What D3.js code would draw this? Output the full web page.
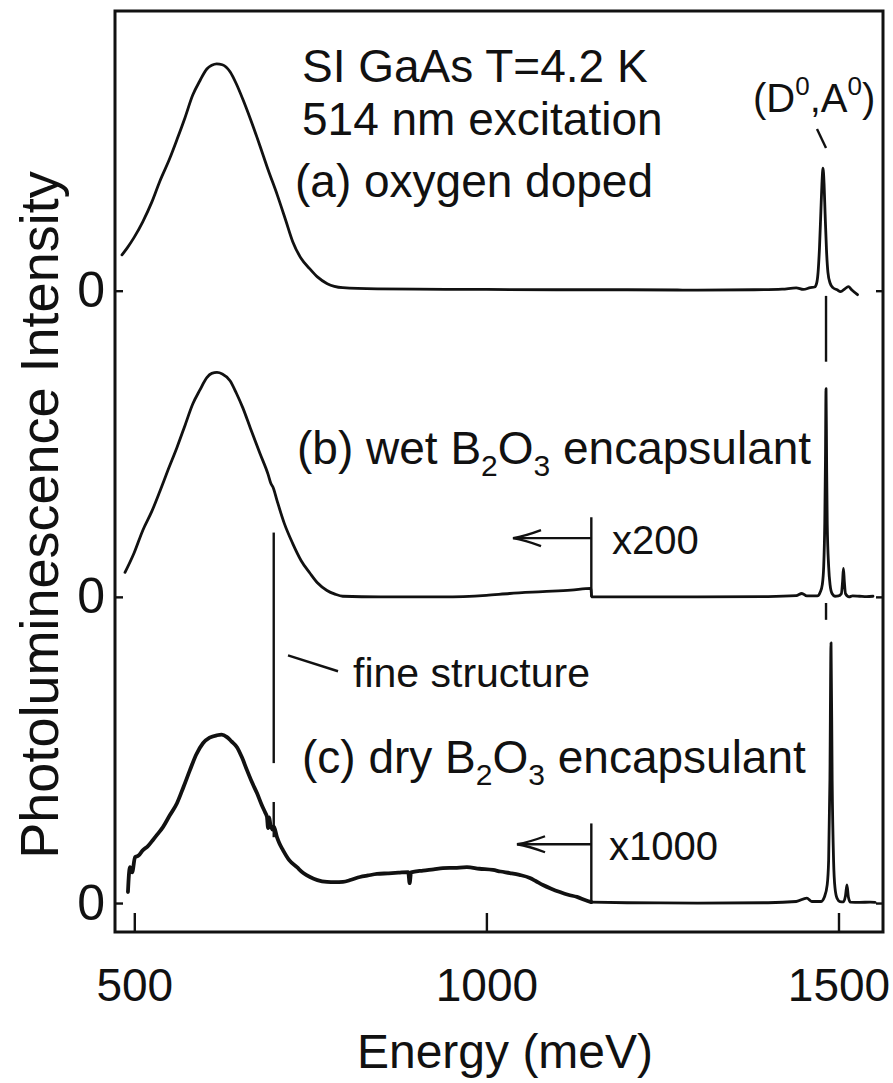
<!DOCTYPE html>
<html>
<head>
<meta charset="utf-8">
<script src="https://cdn.jsdelivr.net/npm/d3@7"></script>
<style>
  html, body { margin: 0; padding: 0; background: #fff; }
  svg { display: block; }
  text { font-family: "Liberation Sans", Arial, sans-serif; fill: #111; }
</style>
</head>
<body>
<svg id="chart" width="893" height="1083"></svg>
<script>
// ---------------- DATA ----------------
const xTicks = [500, 1000, 1500];
const yTickValues = [0, 100, 200];
const yTickLabels = ["0", "0", "0"];
const offsets = { a: 200, b: 100, c: 0 };

// (a) oxygen doped
const energyA = [482.5,490,500,512,525,536,550,561,572,583,593,603,610,617,625,636,645,654,665,678,690,703,715,725,737,749,760,774,796,845,900,1000,1100,1200,1300,1380,1420,1440,1450,1460,1466,1469,1471,1473,1475,1476.5,1478,1479.5,1481,1483,1485,1488,1492,1498,1503,1509,1514,1519,1527];
const intensityA = [11.7,14.0,17.5,22.5,29.0,35.6,43.0,49.6,56.5,63.9,68.5,72.4,73.6,74.1,73.8,71.5,67.5,62.6,56.0,47.6,39.5,31.3,23.0,16.0,10.5,7.2,4.5,2.3,1.0,0.6,0.5,0.4,0.3,0.3,0.2,0.3,0.5,0.9,0.4,1.0,1.2,2.5,6,14,26,35,40,35,25,13,6,2.5,1,0.3,-0.3,0.6,1.3,0.2,-1.3];

// (b) wet B2O3 encapsulant
const energyB = [486.8,500,512,525,536.5,548,560.6,572,583,593,603,610,617.4,625,636,645,654,665,678.5,690,694,697,702.6,713,725,737,749.5,760,773.6,785,796,850,938,1000,1033,1080,1120,1148.5,1149.5,1300,1400,1440,1448,1455,1470,1474,1477,1479,1480.5,1481.5,1482.3,1483.1,1484,1486,1488,1491,1495,1500,1504,1505.8,1507,1508.3,1510,1515,1520,1530,1540,1549];
const intensityB = [8.0,14.5,21.7,28,34.6,41.5,48.8,56,63.0,67.5,71.6,73,73.3,72.8,70.6,66.5,61.8,55,46.8,40,37.0,35.8,31.5,24,17.4,11.8,7.7,4.6,2.1,0.9,0.2,0,0,0.5,1.1,1.7,2.2,2.8,0,0,0.1,0.4,1.1,0.3,0.3,1.5,4,10,24,45,68,45,24,10,4,1,0.2,0.3,1,5,9.3,5,1,0,0.3,0.2,0.1,0.2];

// (c) dry B2O3 encapsulant
const energyC = [491,492,493.9,497,501,506,512.3,519,526.5,533,540.7,550,560.6,570,579,588,597.5,607,617.4,624,631.6,638,645.8,653,660,667,674.2,681,686,688.4,690,691.5,693,696,698,702.6,706,711.1,720,731,740,749.5,760,773.6,785,796.3,808,820.4,832,844.6,860,875,889,891,893,910,925,938.3,955,972.4,990,1009.3,1020,1033.4,1047,1061.8,1070,1080.3,1092,1104.4,1116,1128.6,1140,1149,1200,1300,1400,1440,1455,1462,1475,1480,1484,1486,1487.8,1489.4,1491,1493,1495,1498,1502,1507,1510,1512,1514,1517,1530,1545,1552];
const intensityC = [3.6,8,11.7,10,15,15.5,17.3,18.5,20.6,22.5,24.8,28.5,32.6,38,43.4,48.5,52.2,54,54.8,55,54.2,52.8,50.9,47.5,43.4,39.5,35.9,32,29.5,28.1,24.5,28,26,24,25,21.5,19.5,17.3,14,11.7,9.8,8.5,7.5,6.9,6.8,6.9,7.6,8.5,9.0,9.5,9.7,9.9,10.1,6.5,10.0,10.6,11.0,11.4,11.5,11.7,11.2,10.8,10.3,9.8,9.2,8.2,7.2,5.9,4.7,3.6,2.7,2.0,1.0,0.3,0.1,0,0.1,0.5,1.6,0.5,0.5,2,6,14,40,85,40,14,5,1.5,0.5,0.4,2.5,5.9,2,0.3,0.2,0.3,0.2];

// ---------------- LAYOUT ----------------
const frame = { left: 115, right: 883, top: 11, bottom: 932 };
const svg = d3.select("#chart");

const x = d3.scaleLinear().domain([472.6, 1563.2]).range([frame.left, frame.right]);
const y = d3.scaleLinear().domain([-9.46, 291.35]).range([frame.bottom, frame.top]);

const ink = "#111";

// frame
svg.append("rect")
  .attr("x", frame.left).attr("y", frame.top)
  .attr("width", frame.right - frame.left).attr("height", frame.bottom - frame.top)
  .attr("fill", "none").attr("stroke", ink).attr("stroke-width", 3);

// x axis (ticks inward)
const xAxis = d3.axisBottom(x).tickValues(xTicks).tickFormat(d3.format("d"))
  .tickSizeInner(-19).tickSizeOuter(0).tickPadding(36);
const gx = svg.append("g").attr("transform", `translate(0,${frame.bottom})`).call(xAxis);
gx.select(".domain").remove();
gx.selectAll(".tick line").attr("stroke", ink).attr("stroke-width", 2.4);
gx.selectAll(".tick text").style("font-size", "46px").attr("fill", ink)
  .style("font-family", '"Liberation Sans", Arial, sans-serif');

// y axis left
const yAxis = d3.axisLeft(y).tickValues(yTickValues).tickFormat((d, i) => yTickLabels[i])
  .tickSizeInner(-8).tickSizeOuter(0).tickPadding(10);
const gy = svg.append("g").attr("transform", `translate(${frame.left},0)`).call(yAxis);
gy.select(".domain").remove();
gy.selectAll(".tick line").attr("stroke", ink).attr("stroke-width", 2.4);
gy.selectAll(".tick text").style("font-size", "50px").attr("fill", ink)
  .style("font-family", '"Liberation Sans", Arial, sans-serif');

// y axis right (ticks only)
const yAxisR = d3.axisRight(y).tickValues(yTickValues).tickFormat("")
  .tickSizeInner(-7).tickSizeOuter(0);
const gyr = svg.append("g").attr("transform", `translate(${frame.right},0)`).call(yAxisR);
gyr.select(".domain").remove();
gyr.selectAll(".tick line").attr("stroke", ink).attr("stroke-width", 2.4);

// axis titles
svg.append("text").attr("x", 505).attr("y", 1068).attr("text-anchor", "middle")
  .style("font-size", "48px").text("Energy (meV)");
svg.append("text").attr("transform", "translate(58,515) rotate(-90)")
  .attr("text-anchor", "middle").style("font-size", "54px")
  .text("Photoluminescence Intensity");

// ---------------- CURVES ----------------
function series(E, I, off) { return E.map((e, k) => ({ e, i: I[k] + off })); }
const line = d3.line().x(d => x(d.e)).y(d => y(d.i)).curve(d3.curveMonotoneX);

const dataA = series(energyA, intensityA, offsets.a);
const dataB = series(energyB, intensityB, offsets.b);
const dataC = series(energyC, intensityC, offsets.c);

const gCurves = svg.append("g").attr("fill", "none").attr("stroke", ink)
  .attr("stroke-linejoin", "round").attr("stroke-linecap", "round");
gCurves.append("path").attr("d", line(dataA)).attr("stroke-width", 2.8);
gCurves.append("path").attr("d", line(dataB)).attr("stroke-width", 2.8);
gCurves.append("path").attr("d", line(dataC.filter(d => d.e <= 1149))).attr("stroke-width", 3.8);
gCurves.append("path").attr("d", line(dataC.filter(d => d.e >= 1149))).attr("stroke-width", 2.8);

// ---------------- ANNOTATIONS ----------------
const gAnn = svg.append("g").attr("stroke", ink).attr("fill", "none").attr("stroke-width", 2.4);
function seg(e1, v1, e2, v2, w) {
  gAnn.append("line").attr("x1", x(e1)).attr("y1", y(v1)).attr("x2", x(e2)).attr("y2", y(v2))
    .attr("stroke-width", w || 2.4);
}
// scale-change markers and arrows
const markerE = 1149;
seg(markerE, 100, markerE, 126);           // x200 marker
seg(markerE, 0, markerE, 26);              // x1000 marker
function arrow(eFrom, eTip, v) {
  seg(eFrom, v, eTip, v);
  const tx = x(eTip), ty = y(v);
  gAnn.append("path").attr("d", `M${tx + 28},${ty - 8} Q${tx + 12},${ty - 2} ${tx},${ty} Q${tx + 12},${ty + 2} ${tx + 28},${ty + 8}`);
}
arrow(markerE, 1037.8, 119.2);
arrow(markerE, 1043.5, 19.2);

// fine structure marker
const fsE = 698;
seg(fsE, 121, fsE, 45.7);
seg(fsE, 33, fsE, 21.5);
seg(718.3, 80.9, 789.3, 75.7);

// (D0,A0) marker
gAnn.append("line").attr("x1", 817).attr("y1", 129).attr("x2", 826).attr("y2", 148);
const daE = 1482.3;
seg(daE, 198.3, daE, 176.8);
seg(daE, 98, daE, 92.5);

// texts
function txt(xp, yp, size) {
  return svg.append("text").attr("x", xp).attr("y", yp).style("font-size", size + "px");
}
txt(302, 82, 46).text("SI GaAs T=4.2 K");
txt(302, 135, 46).text("514 nm excitation");
txt(295, 197, 46).text("(a) oxygen doped");

function boron(t) {
  t.append("tspan").text("B");
  t.append("tspan").attr("dy", 12).style("font-size", "30px").text("2");
  t.append("tspan").attr("dy", -12).text("O");
  t.append("tspan").attr("dy", 12).style("font-size", "30px").text("3");
  t.append("tspan").attr("dy", -12).text(" encapsulant");
}
const tb = txt(297, 464, 46); tb.append("tspan").text("(b) wet "); boron(tb);
const tc = txt(302, 773, 46); tc.append("tspan").text("(c) dry "); boron(tc);

txt(612, 554, 40).text("x200");
txt(609, 860, 40).text("x1000");
txt(353, 687, 41).text("fine structure");

const td = txt(753, 112, 40);
td.append("tspan").text("(D");
td.append("tspan").attr("dy", -17).style("font-size", "26px").text("0");
td.append("tspan").attr("dy", 17).text(",A");
td.append("tspan").attr("dy", -17).style("font-size", "26px").text("0");
td.append("tspan").attr("dy", 17).text(")");
</script>
</body>
</html>
